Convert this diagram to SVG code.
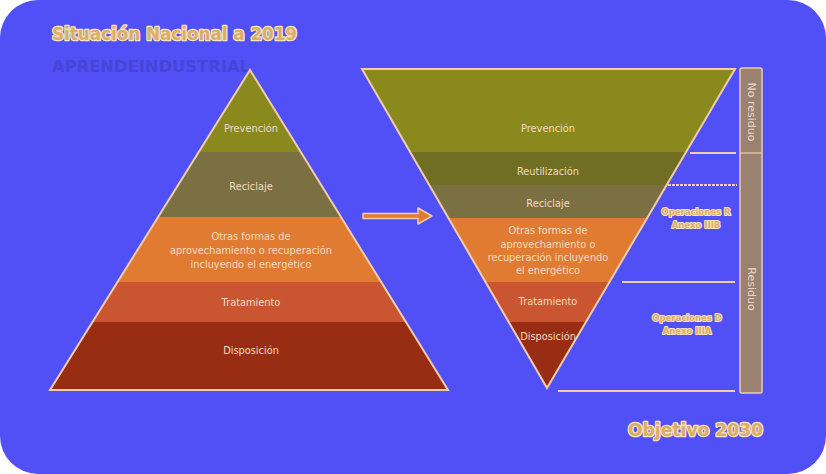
<svg xmlns="http://www.w3.org/2000/svg" width="826" height="474" viewBox="0 0 826 474">
<defs>
<style>
.lbl{font-family:"DejaVu Sans","Open Sans",sans-serif;font-size:9.8px;fill:#F2DCC0;text-anchor:middle}
.ttl{font-family:"DejaVu Sans","Open Sans",sans-serif;font-size:17px;font-weight:700;fill:#D9AE6A;stroke:#F8E2BC;stroke-width:2.6;paint-order:stroke;stroke-linejoin:round}
.ann{font-family:"DejaVu Sans","Open Sans",sans-serif;font-size:8.5px;font-weight:700;fill:#D9AE6A;stroke:#F8E2BC;stroke-width:2;paint-order:stroke;stroke-linejoin:round;text-anchor:middle}
.side{font-family:"DejaVu Sans","Open Sans",sans-serif;font-size:11px;fill:#E8D6C8;text-anchor:middle}
.edge{stroke:#F0CDAA;stroke-width:2;fill:none}
.c1{fill:#8A891E}.c2{fill:#6F6E22}.c3{fill:#7A7042}.c4{fill:#E27B32}.c5{fill:#C95631}.c6{fill:#992D14}
</style>
<clipPath id="lt"><polygon points="250,70 50,390 448,390"/></clipPath>
<clipPath id="rt"><polygon points="362,69 735,69 547,388"/></clipPath>
</defs>
<rect x="0" y="0" width="826" height="474" fill="#ffffff"/>
<rect x="0" y="0" width="826" height="474" rx="38" ry="38" fill="#5150F7"/>
<text class="ttl" x="52" y="40" textLength="245" lengthAdjust="spacingAndGlyphs">Situación Nacional a 2019</text>
<text x="52" y="72" font-family="'DejaVu Sans','Open Sans',sans-serif" font-size="15" font-weight="700" fill="#4645D6" textLength="198" lengthAdjust="spacingAndGlyphs">APRENDEINDUSTRIAL</text>

<g id="left-pyramid">
<g clip-path="url(#lt)">
<rect class="c1" x="40" y="60" width="420" height="92"/>
<rect class="c3" x="40" y="152" width="420" height="65"/>
<rect class="c4" x="40" y="217" width="420" height="65"/>
<rect class="c5" x="40" y="282" width="420" height="40"/>
<rect class="c6" x="40" y="322" width="420" height="70"/>
</g>
<polygon class="edge" points="250,70 50,390 448,390"/>
<text class="lbl" x="251" y="132">Prevención</text>
<text class="lbl" x="251" y="190">Reciclaje</text>
<text class="lbl" x="251" y="240">Otras formas de</text>
<text class="lbl" x="251" y="254">aprovechamiento o recuperación</text>
<text class="lbl" x="251" y="268">incluyendo el energético</text>
<text class="lbl" x="251" y="306">Tratamiento</text>
<text class="lbl" x="251" y="354">Disposición</text>
</g>

<g id="right-pyramid">
<g clip-path="url(#rt)">
<rect class="c1" x="355" y="60" width="390" height="92"/>
<rect class="c2" x="355" y="152" width="390" height="33"/>
<rect class="c3" x="355" y="185" width="390" height="33"/>
<rect class="c4" x="355" y="218" width="390" height="64"/>
<rect class="c5" x="355" y="282" width="390" height="40"/>
<rect class="c6" x="355" y="322" width="390" height="70"/>
</g>
<polygon class="edge" points="362,69 735,69 547,388"/>
<text class="lbl" x="548" y="132">Prevención</text>
<text class="lbl" x="548" y="175">Reutilización</text>
<text class="lbl" x="548" y="207">Reciclaje</text>
<text class="lbl" x="548" y="234">Otras formas de</text>
<text class="lbl" x="548" y="248">aprovechamiento o</text>
<text class="lbl" x="548" y="261">recuperación incluyendo</text>
<text class="lbl" x="548" y="274">el energético</text>
<text class="lbl" x="548" y="305">Tratamiento</text>
<text class="lbl" x="548" y="340">Disposición</text>
</g>

<g id="side-bar">
<rect x="740" y="68" width="22" height="325" rx="2" fill="#9B8170" stroke="#F0CDAA" stroke-width="1.5"/>
<line x1="740" y1="153" x2="762" y2="153" stroke="#F0CDAA" stroke-width="1.2"/>
<text class="side" transform="translate(747.5,112) rotate(90)">No residuo</text>
<text class="side" transform="translate(747.5,289) rotate(90)">Residuo</text>
</g>

<g id="annotations">
<text class="ann" x="696" y="215">Operaciones R</text>
<text class="ann" x="696" y="228">Anexo IIIB</text>
<text class="ann" x="687" y="321">Operaciones D</text>
<text class="ann" x="687" y="334">Anexo IIIA</text>
</g>

<g id="connectors">
<line x1="690" y1="153" x2="736" y2="153" stroke="#F0CDAA" stroke-width="2"/>
<line x1="668" y1="185" x2="737" y2="185" stroke="#F0CDAA" stroke-width="2" stroke-dasharray="3,1"/>
<line x1="622" y1="282" x2="735" y2="282" stroke="#F0CDAA" stroke-width="2"/>
<line x1="558" y1="391" x2="735" y2="391" stroke="#F0CDAA" stroke-width="2"/>
<path d="M363,213.5 H418 V208 L432,216 L418,224 V218.5 H363 Z" fill="#E27B32" stroke="#F0CDAA" stroke-width="1.5" stroke-linejoin="round"/>
</g>

<text class="ttl" x="628" y="436" textLength="135" lengthAdjust="spacingAndGlyphs">Objetivo 2030</text>
</svg>
